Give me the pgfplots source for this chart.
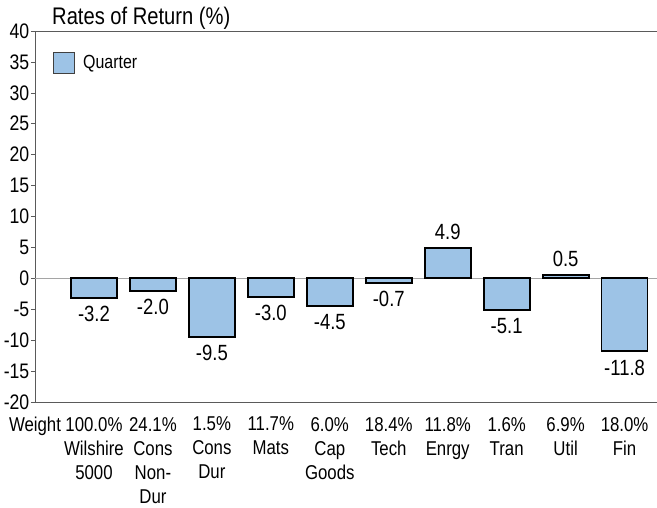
\documentclass[border=0pt]{standalone}
\usepackage{fontspec}
\setmainfont{Liberation Sans}[FakeStretch=0.84]
\usepackage{pgfplots}
\pgfplotsset{compat=1.18}
\definecolor{barblue}{RGB}{157,195,230}
\definecolor{axgray}{RGB}{90,90,90}
\definecolor{zerogray}{RGB}{165,165,165}
\begin{document}
\begin{tikzpicture}
\begin{axis}[
  scale only axis, width=622pt, height=371pt,
  xmin=-1, xmax=9.55, ymin=-20, ymax=40,
  axis lines=left,
  axis line style={-, draw=axgray, line width=1pt},
  ytick={-20,-15,...,40},
  xtick={-1,0,...,9},
  xticklabels={Weight,{100.0\%\\Wilshire\\5000},{24.1\%\\Cons\\Non-\\Dur},{1.5\%\\Cons\\Dur},{11.7\%\\Mats},{6.0\%\\Cap\\Goods},{18.4\%\\Tech},{11.8\%\\Enrgy},{1.6\%\\Tran},{6.9\%\\Util},{18.0\%\\Fin}},
  x tick style={draw=none},
  y tick style={draw=axgray, line width=0.6pt},
  tick align=outside,
  major tick length=4pt,
  /pgf/number format/assume math mode=true,
  yticklabel style={font=\fontsize{21}{21}\selectfont, inner xsep=1.5pt},
  xticklabel style={font=\fontsize{20}{24}\selectfont, align=center, anchor=north, yshift=-7.5pt},
  extra y ticks={0},
  extra y tick labels={},
  extra y tick style={grid=major, major grid style={draw=zerogray, line width=1pt}, major tick length=0pt},
  legend style={draw=none, fill=none, at={(rel axis cs:0.029,0.945)}, anchor=north west,
    font=\fontsize{19}{19}\selectfont, inner sep=0pt},
  legend cell align=left,
  legend image code/.code={\draw[fill=barblue, draw=black!75, line width=0.9pt] (0pt,-10.5pt) rectangle (21pt,10.5pt);},
  clip=false,
]
\addplot[ybar, bar width=0.78, fill=barblue, draw=black, line width=1.8pt,
  point meta=y, nodes near coords={\pgfmathprintnumber[fixed,fixed zerofill,precision=1,assume math mode=true]{\pgfplotspointmeta}},
  nodes near coords align=vertical,
  every node near coord/.append style={font=\fontsize{22}{22}\selectfont, text=black, inner ysep=7.5pt}]
coordinates {
  (0,-3.2)
  (1,-2.0)
  (2,-9.5)
  (3,-3.0)
  (4,-4.5)
  (5,-0.7)
  (6,4.9)
  (7,-5.1)
  (8,0.5)
  (9,-11.8)
};
\addlegendentry{\hspace{6pt}Quarter}
\draw[axgray, line width=1pt] (rel axis cs:0,1) -- (rel axis cs:1,1);
\node[anchor=base west, inner sep=0pt, font=\fontsize{24}{24}\selectfont] at (rel axis cs:0,1) [xshift=17pt, yshift=7pt] {Rates of Return (\%)};
\coordinate (sw) at (rel axis cs:0,0);
\coordinate (ne) at (rel axis cs:1,1);
\end{axis}
\pgfresetboundingbox
\path[use as bounding box] ([shift={(-35pt,-105pt)}]sw) rectangle ([shift={(0pt,31pt)}]ne);
\end{tikzpicture}
\end{document}
